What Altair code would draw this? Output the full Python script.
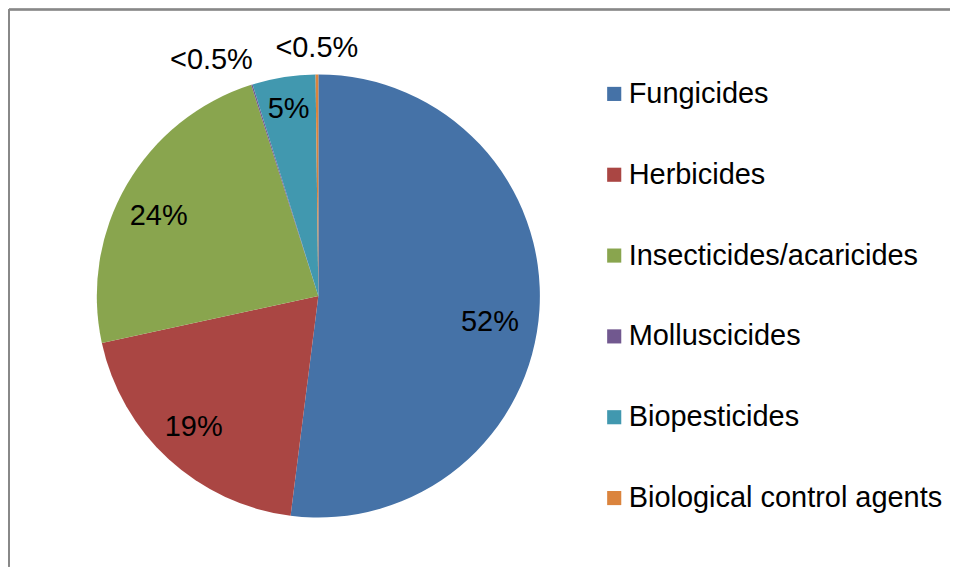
import altair as alt
import pandas as pd

categories = ["Fungicides", "Herbicides", "Insecticides/acaricides", "Molluscicides",
              "Biopesticides", "Biological control agents"]
shares = [52.0, 19.6, 23.5, 0.1, 4.6, 0.2]
labels = ["52%", "19%", "24%", "<0.5%", "5%", "<0.5%"]
colors = ["#4572A7", "#AA4643", "#89A54E", "#71588F", "#4198AF", "#DB843D"]

df = pd.DataFrame({"category": categories, "share": shares, "label": labels,
                   "idx": list(range(len(categories)))})

W, H = 943, 558
CX, CY = 310, 287
FONT = "Liberation Sans"

base = alt.Chart(df)

pie = base.mark_arc(radius=222).encode(
    theta=alt.Theta("share:Q", stack=True),
    order=alt.Order("idx:Q"),
    color=alt.Color("category:N", sort=categories,
                    scale=alt.Scale(domain=categories, range=colors),
                    legend=alt.Legend(title=None, orient="none", legendX=592, legendY=70,
                                      symbolType="square", symbolSize=200, symbolStrokeWidth=0,
                                      labelFontSize=29, labelFont=FONT, labelColor="black",
                                      labelOffset=0, rowPadding=51, padding=0,
                                      labelLimit=400)),
    x=alt.value(CX), y=alt.value(CY),
)

# label placement nudges (Excel-like "best fit" positions)
text = base.transform_joinaggregate(
    total="sum(share)"
).transform_window(
    cum="sum(share)", sort=[alt.SortField("idx")], frame=[None, 0]
).transform_calculate(
    mid="(datum.cum - datum.share/2)/datum.total*2*PI + [0.09, 0.02, -0.06, -0.12, 0, 0][datum.idx]",
    r="[174, 181, 179, 260, 190, 248][datum.idx]",
).mark_text(fontSize=29, font=FONT, color="black", align="center", baseline="middle").encode(
    theta=alt.Theta("mid:Q", scale=None),
    radius=alt.Radius("r:Q", scale=None),
    text="label:N",
    x=alt.value(CX), y=alt.value(CY),
)

left = alt.Chart(df).mark_rule(color="#888888", strokeWidth=1.5).encode(
    x=alt.value(0), y=alt.value(0), y2=alt.value(H))
top = alt.Chart(df).mark_rule(color="#888888", strokeWidth=1.5).encode(
    x=alt.value(0), x2=alt.value(W), y=alt.value(0))

chart = alt.layer(pie, text, left, top).properties(
    width=W, height=H, padding=0
).configure_view(stroke=None)

chart.save("out.html", embed_options={"renderer": "svg", "actions": False})
